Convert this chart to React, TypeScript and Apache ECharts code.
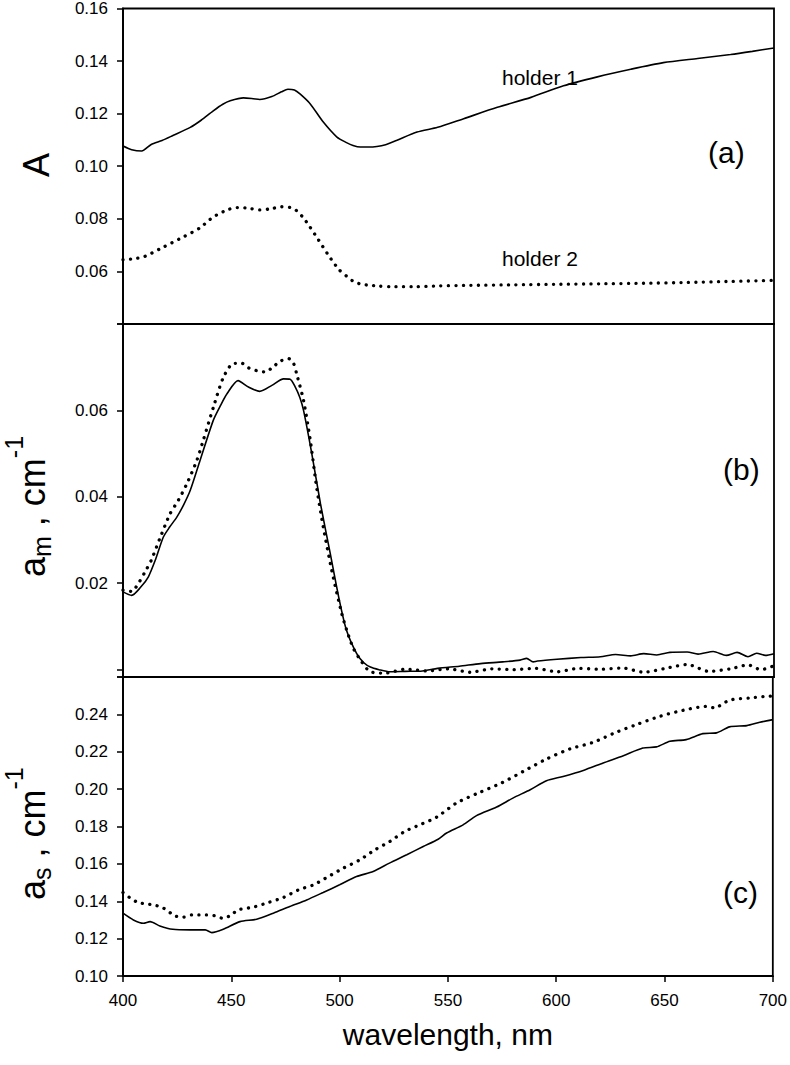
import React, { useEffect, useRef } from "react";
import * as echarts from "echarts";

const FONT = "'Liberation Sans', Arial, Helvetica, sans-serif";

// ---------- Panel (a): absorbance A ----------
const aHolder1Wl = [400, 404, 408.6, 413, 418, 423, 431, 436, 441.6, 446, 449.4, 455.5, 460, 463, 468.6, 473, 476, 479, 481.7, 486.3, 492.4, 498.6, 503, 506, 509.4, 513, 517, 521, 526, 535.5, 545, 557, 572.5, 588, 603, 618.6, 634, 649, 664.8, 680, 690, 700];
const aHolder1Val = [0.1077, 0.1063, 0.1058, 0.1083, 0.1098, 0.1117, 0.1148, 0.1175, 0.1211, 0.1236, 0.1249, 0.126, 0.1257, 0.1254, 0.1265, 0.1283, 0.1293, 0.129, 0.1274, 0.1237, 0.1167, 0.1111, 0.109, 0.1079, 0.1073, 0.1073, 0.1075, 0.1082, 0.1098, 0.113, 0.1148, 0.1181, 0.1224, 0.1262, 0.1306, 0.134, 0.1369, 0.1394, 0.141, 0.1425, 0.1437, 0.145];
const aHolder2Wl = [400, 405, 410, 418, 428, 435.5, 441.6, 448, 452.5, 458, 463, 468, 473, 477, 480, 483, 485.5, 490, 494.8, 499.4, 503, 506, 509, 512.5, 518, 523, 535, 545.5, 560, 580, 600, 620, 640, 660, 680, 700];
const aHolder2Val = [0.0645, 0.0648, 0.0657, 0.069, 0.0732, 0.0766, 0.0807, 0.0834, 0.0843, 0.084, 0.0834, 0.0838, 0.0846, 0.0843, 0.0831, 0.0805, 0.0777, 0.0721, 0.066, 0.0608, 0.0582, 0.0563, 0.0553, 0.0548, 0.0544, 0.0542, 0.0542, 0.0545, 0.0547, 0.0549, 0.0551, 0.0553, 0.0555, 0.0558, 0.0562, 0.0566];

// ---------- Panel (b): a_m ----------
const bSolidWl = [400, 404, 408, 411.7, 415, 418.6, 421.5, 424.8, 428, 431, 435.5, 441.6, 445, 448, 453, 457.8, 463, 468.6, 474, 477, 479.4, 481.5, 483.2, 487, 491, 495.5, 499.4, 503, 507.7, 511, 514, 518, 523, 530, 538, 545, 555, 564.8, 575, 583, 586, 589, 591, 600, 611, 620, 627, 634, 640, 646, 652, 660, 665, 672, 678, 683, 688, 692, 696, 700];
const bSolidVal = [0.018, 0.0172, 0.019, 0.0215, 0.0255, 0.0307, 0.033, 0.0353, 0.0382, 0.0415, 0.0484, 0.0577, 0.0612, 0.0639, 0.0669, 0.0654, 0.0644, 0.0658, 0.0673, 0.0672, 0.0654, 0.063, 0.06, 0.05, 0.0384, 0.0269, 0.0168, 0.0091, 0.0037, 0.0016, 0.0006, 0.0, -0.0005, -0.0004, -0.0003, 0.0003, 0.0008, 0.0014, 0.0018, 0.0022, 0.0026, 0.0018, 0.002, 0.0024, 0.0028, 0.003, 0.0035, 0.0032, 0.0037, 0.0034, 0.004, 0.0041, 0.0036, 0.0042, 0.0033, 0.004, 0.003, 0.0038, 0.0033, 0.0037];
const bDottedWl = [400, 404, 407, 410, 413, 417, 421.7, 425.5, 429.4, 434, 437, 441.7, 446.3, 451, 454.7, 458, 461.7, 465.5, 469, 472.5, 476.3, 478.5, 480, 483.2, 486.3, 489.2, 492.3, 496.2, 500.8, 503.5, 506.2, 510, 514, 521, 530, 540, 550, 560, 570, 580, 590, 600, 610, 620, 630, 640, 650, 660, 670, 680, 688, 694, 700];
const bDottedVal = [0.0184, 0.0181, 0.0199, 0.0225, 0.0253, 0.0304, 0.0361, 0.0392, 0.043, 0.0484, 0.0531, 0.0608, 0.0677, 0.0709, 0.0709, 0.0698, 0.0692, 0.0689, 0.07, 0.0714, 0.072, 0.071, 0.0685, 0.0623, 0.0531, 0.0423, 0.033, 0.023, 0.013, 0.0085, 0.0049, 0.0018, -0.0005, -0.0008, 0.0001, -0.0003, 0.0002, -0.0006, 0.0002, 0.0, 0.0003, -0.0005, 0.0003, 0.0001, 0.0004, -0.0006, 0.0003, 0.0012, -0.0004, 0.0002, 0.0011, 0.0, 0.0009];

// ---------- Panel (c): a_s ----------
const cSolidWl = [400, 404.8, 409.4, 412.5, 417, 423, 431, 438, 441, 446.3, 454, 461.7, 469.4, 477, 484.8, 492.4, 500, 507.8, 515.5, 523, 531, 538.6, 545.5, 549.4, 557, 563.2, 572.5, 580, 588, 595.5, 603.2, 612.5, 621.7, 631, 640, 646.3, 652.5, 660, 667.7, 674, 680, 688, 694, 700];
const cSolidVal = [0.1336, 0.13, 0.1282, 0.1291, 0.1268, 0.125, 0.1247, 0.1247, 0.1232, 0.125, 0.1291, 0.1304, 0.1336, 0.1372, 0.1407, 0.1447, 0.1488, 0.1532, 0.1559, 0.1604, 0.1649, 0.1693, 0.1732, 0.1765, 0.1809, 0.1858, 0.1904, 0.1952, 0.1997, 0.2045, 0.2068, 0.21, 0.214, 0.2179, 0.222, 0.2226, 0.2256, 0.2265, 0.2297, 0.2301, 0.2333, 0.234, 0.2358, 0.2372];
const cDottedWl = [400, 403, 407, 414, 418, 424, 427.8, 431.7, 438.6, 442.5, 446, 449.4, 453.2, 460, 467, 474, 481, 488, 494.8, 501.7, 509.4, 516.3, 523.2, 530, 537, 544.8, 554, 564, 574.8, 584.8, 595.5, 606.3, 617, 627, 637, 648, 658.6, 669.4, 673, 680, 689.4, 697.8, 700];
const cDottedVal = [0.1447, 0.142, 0.1393, 0.138, 0.1368, 0.1322, 0.1315, 0.1327, 0.1327, 0.1322, 0.1309, 0.1322, 0.1354, 0.1368, 0.1393, 0.142, 0.1461, 0.1488, 0.1532, 0.1577, 0.1622, 0.1675, 0.172, 0.1773, 0.1809, 0.185, 0.1926, 0.1979, 0.2033, 0.2095, 0.2161, 0.2215, 0.225, 0.2301, 0.2345, 0.239, 0.2422, 0.2443, 0.2435, 0.2476, 0.2488, 0.2497, 0.2498];

// ---------- Axes ----------
const wlMin = 400;
const wlMax = 700;
const wlStep = 50;
const aRange = [0.04, 0.16];
const bRange = [-0.0017, 0.08];
const cRange = [0.1, 0.26];
const aShownTicks = [0.06, 0.08, 0.1, 0.12, 0.14, 0.16];
const bShownTicks = [0.02, 0.04, 0.06];
const cShownTicks = [0.1, 0.12, 0.14, 0.16, 0.18, 0.2, 0.22, 0.24];

const zip = (xs: number[], ys: number[]) => xs.map((x, i) => [x, ys[i]]);

const shownFormatter = (shown: number[]) => (v: number) =>
  shown.some((s) => Math.abs(s - v) < 1e-7) ? v.toFixed(2) : "";

const BLACK = "#000";

const solidStyle = { color: BLACK, width: 1.6 };
const dotStyle = { color: BLACK, width: 3.3, type: [0.1, 7.4], cap: "round" as const };

function lineSeries(idx: number, data: number[][], dotted: boolean) {
  return {
    type: "line",
    xAxisIndex: idx,
    yAxisIndex: idx,
    data,
    symbol: "none",
    showSymbol: false,
    smooth: 0.25,
    clip: true,
    lineStyle: dotted ? dotStyle : solidStyle,
    z: 3,
  };
}

function txt(text: string, x: number, baseline: number, fs: number) {
  return {
    type: "text",
    x,
    y: baseline - 0.3465 * fs,
    style: {
      text,
      font: `${fs}px ${FONT}`,
      fill: BLACK,
      textAlign: "left",
      textVerticalAlign: "middle",
      align: "left",
      verticalAlign: "middle",
    },
  };
}

function label(text: string, x: number, y: number, fs: number) {
  return {
    type: "text",
    x,
    y,
    style: {
      text,
      font: `${fs}px ${FONT}`,
      fill: BLACK,
      textAlign: "left",
      textVerticalAlign: "middle",
      align: "left",
      verticalAlign: "middle",
    },
    z: 10,
  };
}

const grids = [
  { left: 123, right: 16, top: 7, height: 317 },
  { left: 123, right: 16, top: 324, height: 353 },
  { left: 123, right: 16, top: 677, height: 299 },
].map((g) => ({
  ...g,
  show: true,
  borderColor: BLACK,
  borderWidth: 1.8,
  backgroundColor: "transparent",
  containLabel: false,
}));

const xAxes = [0, 1, 2].map((i) => ({
  type: "value",
  gridIndex: i,
  min: wlMin,
  max: wlMax,
  interval: wlStep,
  axisLine: { show: true, onZero: false, lineStyle: { color: BLACK, width: 1.8 } },
  axisTick: { show: i === 2, inside: false, length: 6, lineStyle: { color: BLACK, width: 1.5 } },
  axisLabel: {
    show: i === 2,
    fontSize: 17,
    fontFamily: FONT,
    color: BLACK,
    margin: 16,
  },
  splitLine: { show: false },
  name: i === 2 ? "wavelength, nm" : "",
  nameLocation: "middle",
  nameGap: 43,
  nameTextStyle: { fontSize: 30, fontFamily: FONT, color: BLACK },
}));

const yCommon = {
  type: "value",
  axisLine: { show: true, onZero: false, lineStyle: { color: BLACK, width: 1.8 } },
  axisTick: { show: true, inside: false, length: 6, lineStyle: { color: BLACK, width: 1.5 } },
  splitLine: { show: false },
};

const yAxes = [
  {
    ...yCommon,
    gridIndex: 0,
    min: aRange[0],
    max: aRange[1],
    interval: 0.02,
    axisLabel: { fontSize: 17, fontFamily: FONT, color: BLACK, margin: 15, formatter: shownFormatter(aShownTicks) },
  },
  {
    ...yCommon,
    gridIndex: 1,
    min: bRange[0],
    max: bRange[1],
    splitNumber: 4,
    axisLabel: { fontSize: 17, fontFamily: FONT, color: BLACK, margin: 15, formatter: shownFormatter(bShownTicks) },
  },
  {
    ...yCommon,
    gridIndex: 2,
    min: cRange[0],
    max: cRange[1],
    interval: 0.02,
    axisLabel: { fontSize: 17, fontFamily: FONT, color: BLACK, margin: 15, formatter: shownFormatter(cShownTicks) },
  },
];

const graphic = [
  {
    type: "text",
    x: 36.5,
    y: 165,
    rotation: Math.PI / 2,
    style: {
      text: "A",
      font: `36px ${FONT}`,
      fill: BLACK,
      textAlign: "center",
      textVerticalAlign: "middle",
      align: "center",
      verticalAlign: "middle",
    },
  },
  {
    type: "group",
    x: 45,
    y: 577,
    rotation: Math.PI / 2,
    children: [txt("a", 0, 0, 36), txt("m", 20, 6, 25), txt(" , cm", 40.8, 0, 36), txt("-1", 118.8, -22, 25)],
  },
  {
    type: "group",
    x: 45,
    y: 900,
    rotation: Math.PI / 2,
    children: [txt("a", 0, 0, 36), txt("s", 20, 6, 25), txt(" , cm", 32.5, 0, 36), txt("-1", 110.5, -22, 25)],
  },
  label("holder 1", 502, 77, 21),
  label("holder 2", 502, 258, 21),
  label("(a)", 708, 152, 30),
  label("(b)", 723, 469, 30),
  label("(c)", 723, 892, 30),
];

const option = {
  animation: false,
  backgroundColor: "#fff",
  textStyle: { fontFamily: FONT },
  grid: grids,
  xAxis: xAxes,
  yAxis: yAxes,
  graphic,
  series: [
    lineSeries(0, zip(aHolder1Wl, aHolder1Val), false),
    lineSeries(0, zip(aHolder2Wl, aHolder2Val), true),
    lineSeries(1, zip(bSolidWl, bSolidVal), false),
    lineSeries(1, zip(bDottedWl, bDottedVal), true),
    lineSeries(2, zip(cSolidWl, cSolidVal), false),
    lineSeries(2, zip(cDottedWl, cDottedVal), true),
  ],
};

export default function App() {
  const ref = useRef<HTMLDivElement>(null);
  useEffect(() => {
    if (!ref.current) return;
    const chart = echarts.init(ref.current, undefined, { renderer: "svg" });
    chart.setOption(option as any);
    return () => chart.dispose();
  }, []);
  return (
    <div
      ref={ref}
      style={{ position: "absolute", left: 0, top: 0, width: 790, height: 1065, background: "#fff" }}
    />
  );
}
